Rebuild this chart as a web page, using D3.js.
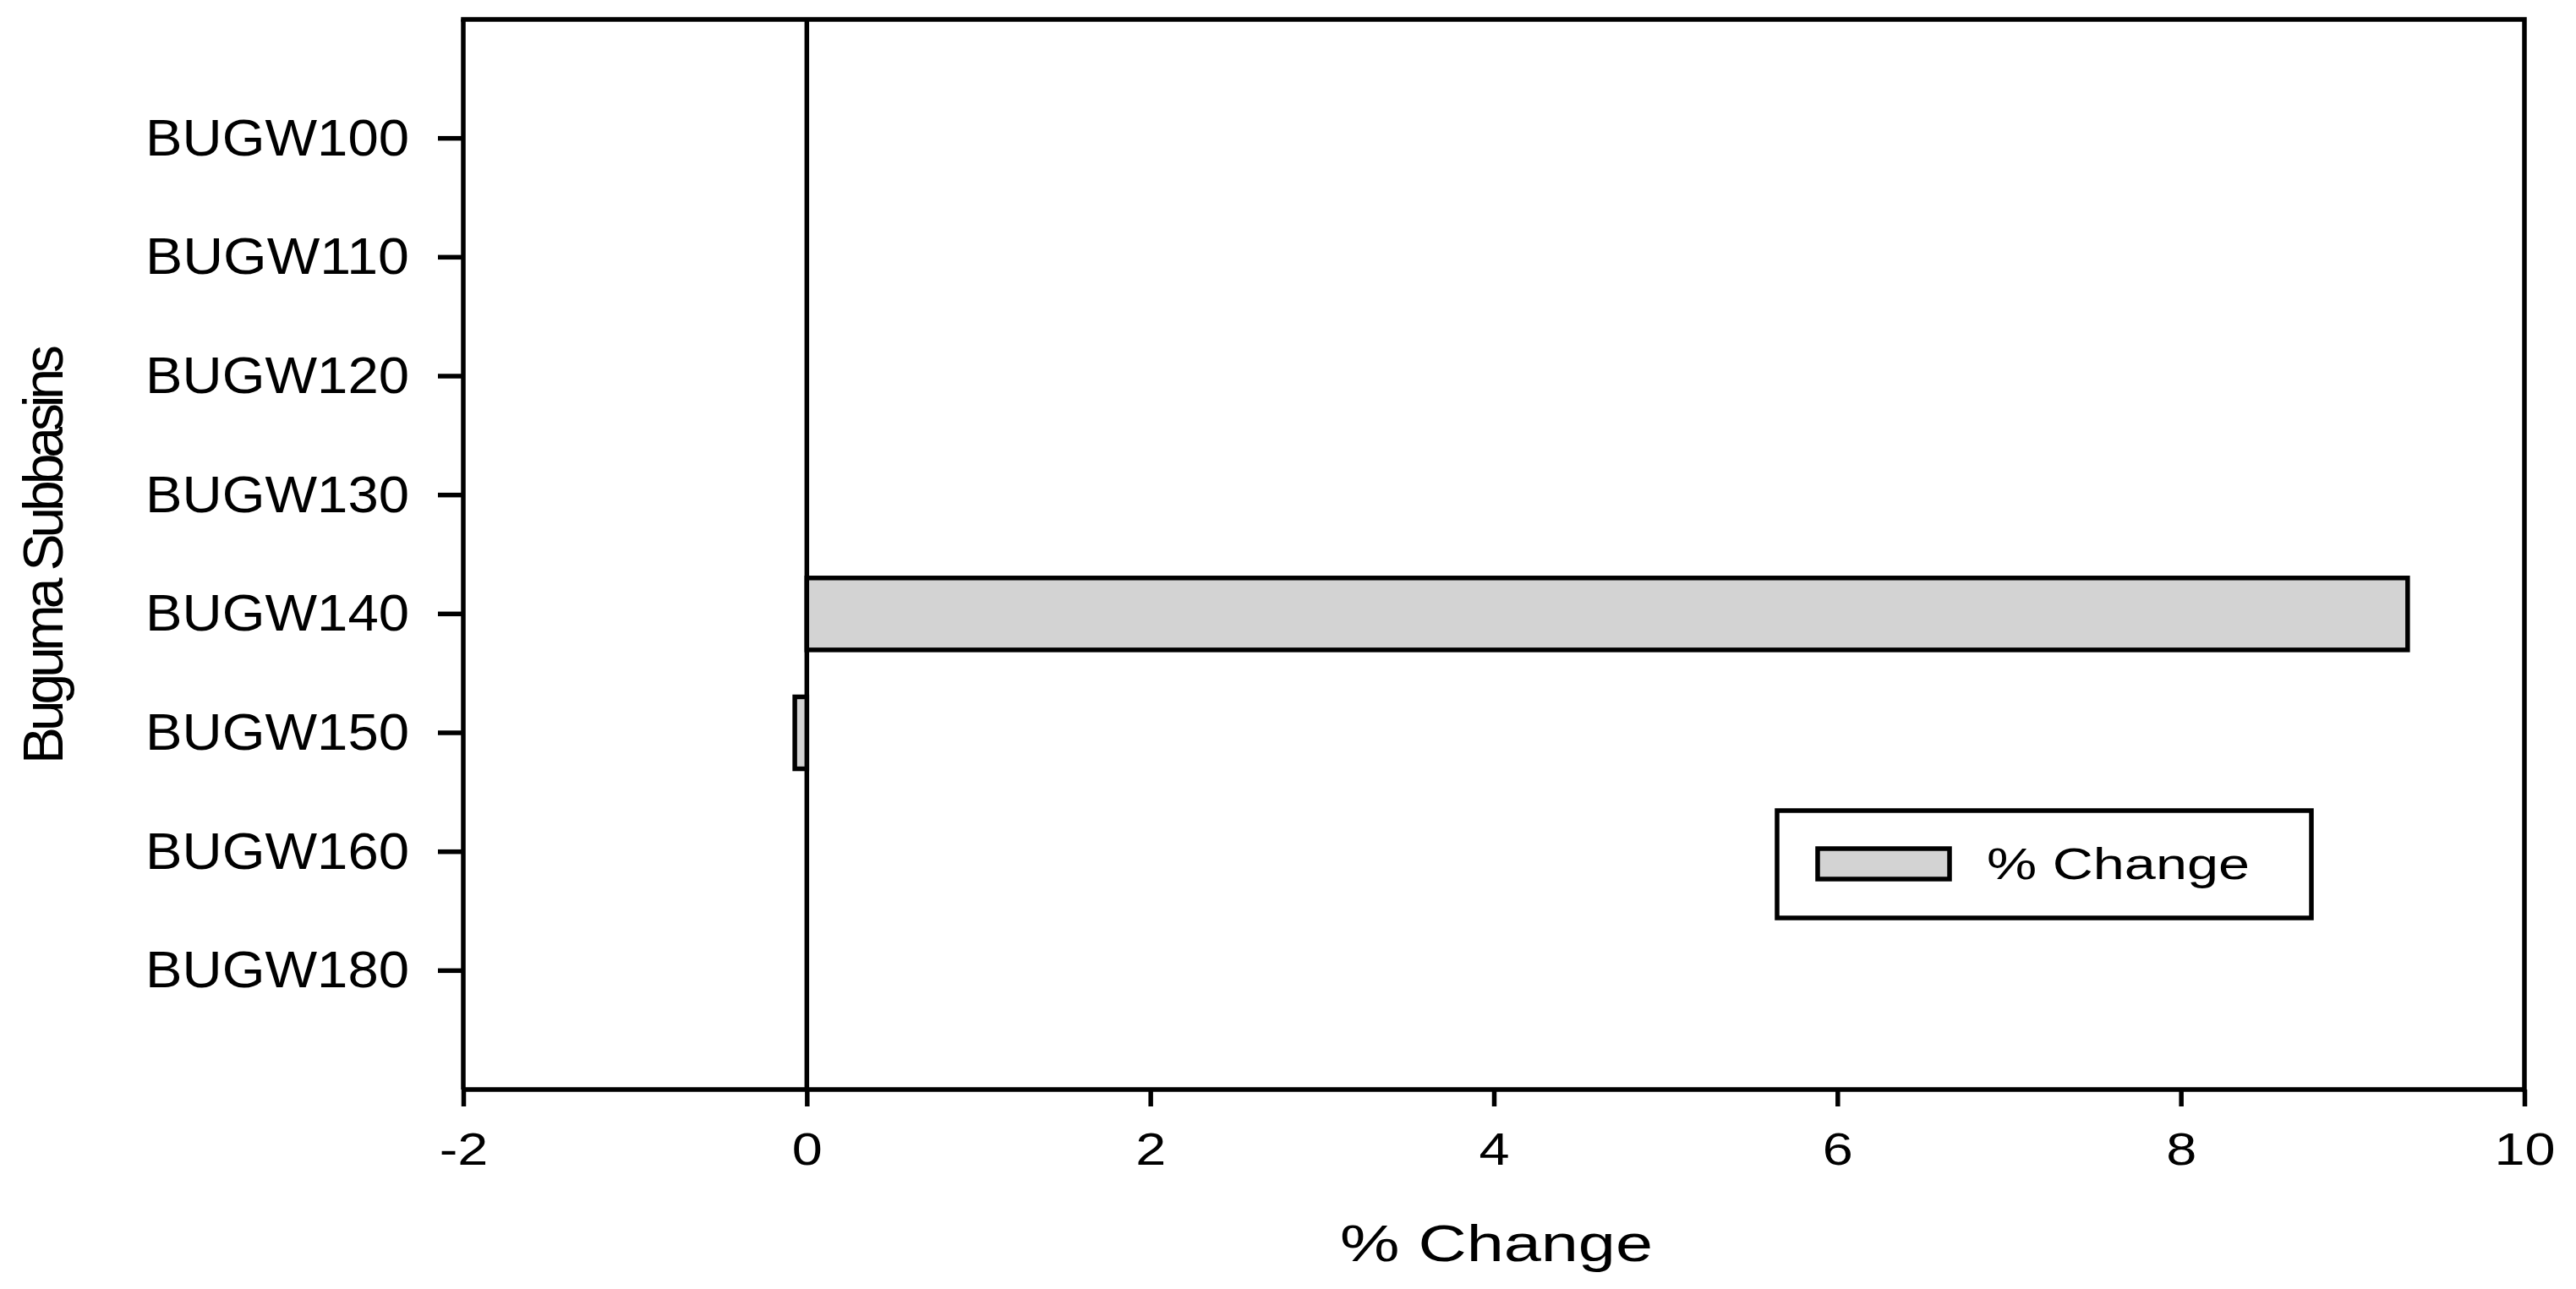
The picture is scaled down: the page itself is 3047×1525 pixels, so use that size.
<!DOCTYPE html>
<html>
<head>
<meta charset="utf-8">
<script src="https://cdn.jsdelivr.net/npm/d3@7"></script>
<style>
  html, body { margin: 0; padding: 0; background: #fff; }
  svg { display: block; }
  text { font-family: Arial, "Liberation Sans", sans-serif; fill: #000; }
</style>
</head>
<body>
<svg id="chart" width="3047" height="1525"></svg>
<script>
// ---- data ----
const categories = ["BUGW100", "BUGW110", "BUGW120", "BUGW130", "BUGW140", "BUGW150", "BUGW160", "BUGW180"];
const pctChange  = [0, 0, 0, 0, 9.32, -0.07, 0, 0];
const xTicks = [-2, 0, 2, 4, 6, 8, 10];
const xDomain = [-2, 10];
const xTitle = "% Change";
const yTitle = "Buguma Subbasins";
const legendLabel = "% Change";

// ---- layout ----
const mLeft = 548, mRight = 2986, mTop = 23, mBottom = 1289;
const SW = 5.5;
const svg = d3.select("#chart");

const x = d3.scaleLinear().domain(xDomain).range([mLeft, mRight]);
const y = d3.scaleBand().domain(categories).range([mTop, mBottom])
  .paddingInner(0.395).paddingOuter(0.6975);

const data = categories.map((c, i) => ({ cat: c, v: pctChange[i] }));

// zero line
svg.append("line")
  .attr("x1", x(0)).attr("x2", x(0))
  .attr("y1", mTop).attr("y2", mBottom)
  .attr("stroke", "#000").attr("stroke-width", SW);

// bars
svg.append("g").selectAll("rect")
  .data(data.filter(d => d.v !== 0))
  .join("rect")
  .attr("x", d => x(Math.min(0, d.v)))
  .attr("width", d => Math.abs(x(d.v) - x(0)))
  .attr("y", d => y(d.cat))
  .attr("height", y.bandwidth())
  .attr("fill", "#d3d3d3")
  .attr("stroke", "#000")
  .attr("stroke-width", SW);

// frame top + right
svg.append("path")
  .attr("d", `M${mLeft},${mTop}H${mRight}V${mBottom}`)
  .attr("fill", "none").attr("stroke", "#000").attr("stroke-width", SW)
  .attr("stroke-linecap", "square");

// x axis
const gx = svg.append("g").attr("transform", `translate(0,${mBottom})`)
  .call(d3.axisBottom(x).tickValues(xTicks).tickSize(20).tickPadding(31)
    .tickFormat(d => String(d)));
gx.select(".domain").attr("stroke-width", SW).attr("d", `M${mLeft},0H${mRight}`);
gx.selectAll(".tick line").attr("stroke-width", SW);
gx.selectAll(".tick text")
  .attr("font-size", 54)
  .attr("font-family", "Arial, 'Liberation Sans', sans-serif")
  .attr("transform", "scale(1.2,1)");

// y axis
const gy = svg.append("g").attr("transform", `translate(${mLeft},0)`)
  .call(d3.axisLeft(y).tickSize(30).tickPadding(34));
gy.select(".domain").attr("stroke-width", SW).attr("d", `M0,${mTop}V${mBottom}`);
gy.selectAll(".tick line").attr("stroke-width", SW);
gy.selectAll(".tick text")
  .attr("font-size", 62)
  .attr("font-family", "Arial, 'Liberation Sans', sans-serif")
  .attr("textLength", 312)
  .attr("lengthAdjust", "spacingAndGlyphs");

// x title
svg.append("text")
  .attr("x", 1585).attr("y", 1492)
  .attr("font-size", 62)
  .attr("textLength", 370).attr("lengthAdjust", "spacingAndGlyphs")
  .text(xTitle);

// y title
svg.append("text")
  .attr("transform", `translate(74,${(mTop + mBottom) / 2}) rotate(-90)`)
  .attr("text-anchor", "middle")
  .attr("font-size", 66)
  .attr("textLength", 496).attr("lengthAdjust", "spacing")
  .text(yTitle);

// legend
const lg = svg.append("g");
lg.append("rect")
  .attr("x", 2102).attr("y", 959).attr("width", 632).attr("height", 127)
  .attr("fill", "#fff").attr("stroke", "#000").attr("stroke-width", SW);
lg.append("rect")
  .attr("x", 2150).attr("y", 1004).attr("width", 156).attr("height", 36)
  .attr("fill", "#d3d3d3").attr("stroke", "#000").attr("stroke-width", SW);
lg.append("text")
  .attr("x", 2350).attr("y", 1040)
  .attr("font-size", 52)
  .attr("textLength", 311).attr("lengthAdjust", "spacingAndGlyphs")
  .text(legendLabel);
</script>
</body>
</html>
